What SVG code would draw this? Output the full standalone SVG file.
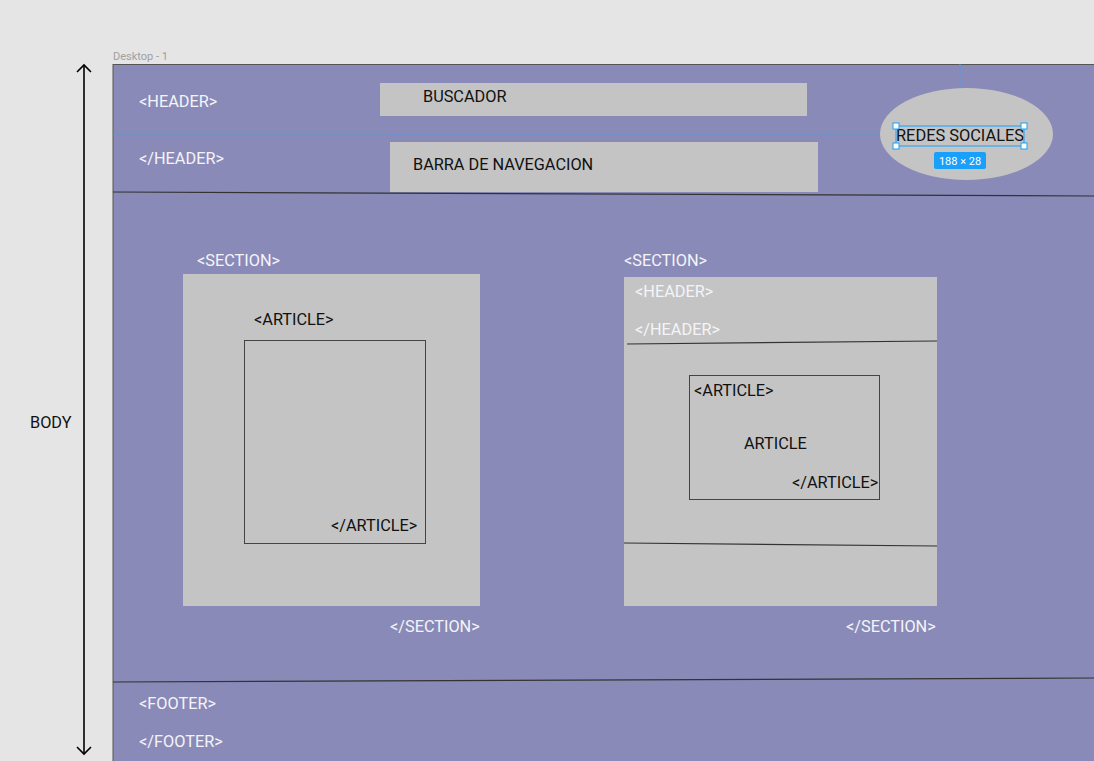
<svg xmlns="http://www.w3.org/2000/svg" width="1094" height="761" viewBox="0 0 1094 761">
<style>
text{font-family:Roboto,"Liberation Sans",sans-serif;font-size:16.3px}
.w{fill:#f4f4f8}
.k{fill:#111}
.box{fill:#c4c4c4}
.art{fill:none;stroke:#444;stroke-width:1}
.ln{stroke:#333;stroke-width:1.2;fill:none}
.sel{fill:none;stroke:#18a0fb;stroke-width:1}
.h{fill:#fff;stroke:#18a0fb;stroke-width:1}
.guide{stroke:#3aa0ee;stroke-width:1;stroke-dasharray:2 2;fill:none}
.arr{stroke:#000;stroke-width:1.6;fill:none}
</style>
<rect width="1094" height="761" fill="#e5e5e5"/>
<text x="113" y="60" style="font-size:11px" fill="#a0a0a0">Desktop - 1</text>
<g id="frame">
<rect x="113" y="64.500" width="985" height="700" fill="#8a8ab8" stroke="#555" stroke-width="1"/>
</g>
<g id="connectors">
<line x1="84" y1="65" x2="84" y2="754" class="arr"/>
<path class="arr" d="M77 72 L84 65 L91 72"/>
<path class="arr" d="M77 747 L84 754 L91 747"/>
<path class="ln" d="M113 192 L1094 196"/>
<path class="ln" d="M113 682 L1094 678"/>
<path class="guide" d="M113 135 L895 135"/>
<path class="guide" d="M960 64 L960 126"/>
</g>
<g id="body-label"><text x="30" y="428" class="k">BODY</text></g>
<g id="header">
<text x="139" y="107" class="w">&lt;HEADER&gt;</text>
<text x="139" y="164" class="w">&lt;/HEADER&gt;</text>
</g>
<g id="buscador">
<rect x="380" y="83" width="427" height="33" class="box"/>
<text x="423" y="102" class="k">BUSCADOR</text>
</g>
<g id="barra">
<rect x="390" y="142" width="428" height="50" class="box"/>
<text x="413" y="170" class="k">BARRA DE NAVEGACION</text>
</g>
<g id="redes">
<ellipse cx="966.500" cy="134" rx="86.500" ry="46" class="box"/>
<text x="896" y="141" class="k" textLength="128" lengthAdjust="spacingAndGlyphs">REDES SOCIALES</text>
<rect x="896" y="126" width="128" height="20" class="sel"/>
<rect x="893" y="123" width="6" height="6" class="h"/>
<rect x="1021" y="123" width="6" height="6" class="h"/>
<rect x="893" y="143" width="6" height="6" class="h"/>
<rect x="1021" y="143" width="6" height="6" class="h"/>
<rect x="934" y="152" width="52" height="17" rx="2" fill="#18a0fb"/>
<text x="960" y="164.500" text-anchor="middle" style="font-size:11px" fill="#fff">188 × 28</text>
</g>
<g id="section1">
<text x="197" y="266" class="w">&lt;SECTION&gt;</text>
<rect x="183" y="274" width="297" height="332" class="box"/>
<text x="254" y="325" class="k">&lt;ARTICLE&gt;</text>
<rect x="244.500" y="340.500" width="181" height="203" class="art"/>
<text x="331" y="531" class="k">&lt;/ARTICLE&gt;</text>
<text x="390" y="632" class="w">&lt;/SECTION&gt;</text>
</g>
<g id="section2">
<text x="624" y="266" class="w">&lt;SECTION&gt;</text>
<rect x="624" y="277" width="313" height="329" class="box"/>
<text x="635" y="297" class="w">&lt;HEADER&gt;</text>
<text x="635" y="335" class="w">&lt;/HEADER&gt;</text>
<path class="ln" d="M627 344 L937 341"/>
<rect x="689.500" y="375.500" width="190" height="124" class="art"/>
<text x="694" y="396" class="k">&lt;ARTICLE&gt;</text>
<text x="744" y="449" class="k">ARTICLE</text>
<text x="792" y="488" class="k">&lt;/ARTICLE&gt;</text>
<path class="ln" d="M624 543 L937 546"/>
<text x="846" y="632" class="w">&lt;/SECTION&gt;</text>
</g>
<g id="footer">
<text x="139" y="709" class="w">&lt;FOOTER&gt;</text>
<text x="139" y="747" class="w">&lt;/FOOTER&gt;</text>
</g>
</svg>
